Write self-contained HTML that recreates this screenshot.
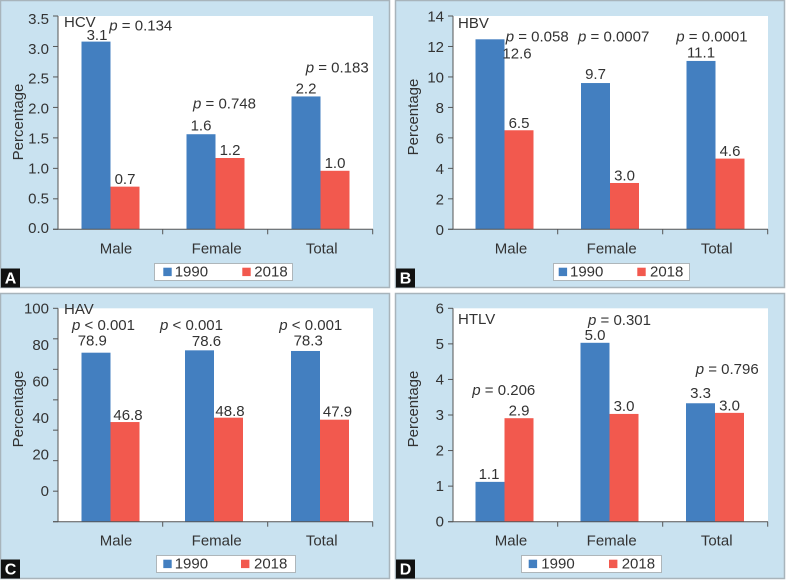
<!DOCTYPE html>
<html lang="en">
<head>
<meta charset="utf-8">
<title>Seroprevalence 1990 vs 2018</title>
<style>
html,body{margin:0;padding:0;background:#fff;width:786px;height:580px;overflow:hidden}
svg{display:block;filter:blur(0.3px)}
text{font-family:"Liberation Sans",sans-serif;font-size:15px;fill:#333}
.badge{font-weight:bold;fill:#fff;font-size:16px}
</style>
</head>
<body>
<svg id="figure" xmlns="http://www.w3.org/2000/svg" width="786" height="580" viewBox="0 0 786 580"></svg>
<script>
// ---- Data ----
const categories = ["Male", "Female", "Total"];
const seriesNames = ["1990", "2018"];

const hcvTicks = [0, 0.5, 1, 1.5, 2, 2.5, 3, 3.5];
const hcvTickLabels = ["0.0", "0.5", "1.0", "1.5", "2.0", "2.5", "3.0", "3.5"];
const hcvValues1990 = [3.08, 1.56, 2.18];
const hcvValues2018 = [0.7, 1.17, 0.96];
const hcvPrinted1990 = ["3.1", "1.6", "2.2"];
const hcvPrinted2018 = ["0.7", "1.2", "1.0"];
const hcvPValues = ["= 0.134", "= 0.748", "= 0.183"];

const hbvTicks = [0, 2, 4, 6, 8, 10, 12, 14];
const hbvTickLabels = ["0", "2", "4", "6", "8", "10", "12", "14"];
const hbvValues1990 = [12.47, 9.6, 11.05];
const hbvValues2018 = [6.5, 3.04, 4.64];
const hbvPrinted1990 = ["12.6", "9.7", "11.1"];
const hbvPrinted2018 = ["6.5", "3.0", "4.6"];
const hbvPValues = ["= 0.058", "= 0.0007", "= 0.0001"];

const havTicks = [0, 14.3, 28.6, 42.9, 57.1, 71.4, 85.7, 100];
const havTickLabelValues = [0, 20, 40, 60, 80, 100];
const havTickLabels = ["0", "20", "40", "60", "80", "100"];
const havValues1990 = [79.2, 80.3, 80];
const havValues2018 = [46.7, 48.75, 47.8];
const havPrinted1990 = ["78.9", "78.6", "78.3"];
const havPrinted2018 = ["46.8", "48.8", "47.9"];
const havPValues = ["< 0.001", "< 0.001", "< 0.001"];

const htlvTicks = [0, 1, 2, 3, 4, 5, 6];
const htlvTickLabels = ["0", "1", "2", "3", "4", "5", "6"];
const htlvValues1990 = [1.12, 5.03, 3.33];
const htlvValues2018 = [2.91, 3.03, 3.06];
const htlvPrinted1990 = ["1.1", "5.0", "3.3"];
const htlvPrinted2018 = ["2.9", "3.0", "3.0"];
const htlvPValues = ["= 0.206", "= 0.301", "= 0.796"];

// ---- Layout ----
const BLUE = "#437fc0", RED = "#f2594e", AXIS = "#555", PANEL = "#c9e2f0", EDGE = "#a8b4bb";
const PLOT_W = 315, BAR_W = 29;

const panels = [
  { key: "hcv", title: "HCV", letter: "A", px: 0, py: 0, ph: 287, ox: 58, top: 16, base: 229.3, max: 3.5,
    ticks: hcvTicks, tickLabelValues: hcvTicks, tickLabels: hcvTickLabels, labelFloor: 0.027, labelCeil: 3.46, labelDrop: 5.5,
    v1990: hcvValues1990, v2018: hcvValues2018, t1990: hcvPrinted1990, t2018: hcvPrinted2018, pv: hcvPValues,
    titleY: 27, titleX: 64, yTitleX: 23, yTitleC: 122,
    pXs: [109.3, 193, 305.7], pYs: [30.7, 108.3, 72.7],
    barNudge: [0, 0, 0],
    dx1990: [1, 0, 0], dy1990: [1.5, 3.5, 3], dx2018: [0, 0, 0], dy2018: [2.5, 3, 3],
    legend: { x: 154.5, y: 263.5, w: 138, h: 17, s1: 163.3, t1: 174.7, s2: 242.3, t2: 254.3 } },
  { key: "hbv", title: "HBV", letter: "B", px: 395, py: 0, ph: 287, ox: 453, top: 16, base: 229.3, max: 14,
    ticks: hbvTicks, tickLabelValues: hbvTicks, tickLabels: hbvTickLabels, labelDrop: 5.5,
    v1990: hbvValues1990, v2018: hbvValues2018, t1990: hbvPrinted1990, t2018: hbvPrinted2018, pv: hbvPValues,
    titleY: 28, titleX: 458, yTitleX: 418, yTitleC: 117,
    pXs: [505.7, 578, 676.3], pYs: [41.7, 41.7, 41.7],
    barNudge: [-1, -0.5, 0],
    dx1990: [27, 0, 0], dy1990: [-19, 4, 3.5], dx2018: [0, 0, 0], dy2018: [2.5, 2.5, 2.5],
    legend: { x: 553.5, y: 263.5, w: 136, h: 17, s1: 558.7, t1: 570, s2: 637.3, t2: 650 } },
  { key: "hav", title: "HAV", letter: "C", px: 0, py: 293, ph: 285, ox: 58, top: 308.3, base: 521.7, max: 100,
    ticks: havTicks, tickLabelValues: havTickLabelValues, tickLabels: havTickLabels, labelFloor: 14.4, labelDrop: 5,
    v1990: havValues1990, v2018: havValues2018, t1990: havPrinted1990, t2018: havPrinted2018, pv: havPValues,
    titleY: 314, titleX: 64, yTitleX: 23, yTitleC: 409,
    pXs: [72, 160, 279.3], pYs: [330, 330, 330],
    barNudge: [0, -1.5, -0.5],
    dx1990: [-3.7, 7, 2.7], dy1990: [7, 4.5, 5.5], dx2018: [3, 1.5, 3], dy2018: [2, 1.5, 3],
    legend: { x: 156.5, y: 555.5, w: 139, h: 17, s1: 163.3, t1: 174.7, s2: 241, t2: 254 } },
  { key: "htlv", title: "HTLV", letter: "D", px: 395, py: 293, ph: 285, ox: 453, top: 308.3, base: 521.7, max: 6,
    ticks: htlvTicks, tickLabelValues: htlvTicks, tickLabels: htlvTickLabels, labelDrop: 5,
    v1990: htlvValues1990, v2018: htlvValues2018, t1990: htlvPrinted1990, t2018: htlvPrinted2018, pv: htlvPValues,
    titleY: 324, titleX: 458, yTitleX: 418, yTitleC: 409,
    pXs: [472.3, 588, 695.7], pYs: [395, 325, 374],
    barNudge: [-1, -1, -0.5],
    dx1990: [-1, 0, 0], dy1990: [3, 3, 5.5], dx2018: [0, 0, 0], dy2018: [2.5, 3, 2.5],
    legend: { x: 521.5, y: 555.5, w: 140, h: 17, s1: 528.7, t1: 541.3, s2: 609, t2: 621.7 } }
];

// ---- Drawing ----
const svg = document.getElementById("figure");
const NS = "http://www.w3.org/2000/svg";

function make(parent, tag, props, content) {
  const node = document.createElementNS(NS, tag);
  for (const k in props) node.setAttribute(k, props[k]);
  if (content !== undefined) node.textContent = content;
  parent.appendChild(node);
  return node;
}

function yScale(p) {
  return v => p.base - (v / p.max) * (p.base - p.top);
}

// Tick labels follow their own linear axis (panel C's labels do not sit on its tick marks).
function labelScale(p) {
  const y = yScale(p);
  const floor = p.labelFloor || 0;
  const ceil = p.labelCeil || p.max;
  return v => y(floor + (v / p.max) * (ceil - floor));
}

function bandCenter(p, i) {
  return p.ox + (PLOT_W / categories.length) * (i + 0.5) + p.barNudge[i];
}

panels.forEach(p => {
  const y = yScale(p);
  const yLabel = labelScale(p);

  const g = make(svg, "g", {});
  
  

  const bg = make(g, "rect", { x: p.px + 0.5, y: p.py + 0.5, width: 389, height: p.ph, fill: PANEL, stroke: EDGE, "stroke-width": 1.5 });
  
  

  const plot = make(g, "rect", { x: p.ox, y: p.top, width: PLOT_W, height: p.base - p.top, fill: "#fff" });
  
  

  // bars and value labels
  categories.forEach((cat, i) => {
    const c = bandCenter(p, i);

    const b1 = make(g, "rect", { x: c - BAR_W, y: y(p.v1990[i]), width: BAR_W, height: p.base - y(p.v1990[i]), fill: BLUE });
    
    

    const b2 = make(g, "rect", { x: c, y: y(p.v2018[i]), width: BAR_W, height: p.base - y(p.v2018[i]), fill: RED });
    
    

    const l1 = make(g, "text", { x: c - BAR_W / 2 + p.dx1990[i], y: y(p.v1990[i]) - p.dy1990[i], "text-anchor": "middle" }, p.t1990[i]);
    
    

    const l2 = make(g, "text", { x: c + BAR_W / 2 + p.dx2018[i], y: y(p.v2018[i]) - p.dy2018[i], "text-anchor": "middle" }, p.t2018[i]);
    
    

    const pt = make(g, "text", { x: p.pXs[i], y: p.pYs[i], "xml:space": "preserve" });
    
    
    make(pt, "tspan", { "font-style": "italic" }, "p");
    make(pt, "tspan", {}, "\u00a0" + p.pv[i]);

    const cl = make(g, "text", { x: p.ox + (PLOT_W / categories.length) * (i + 0.5) + (i === 0 ? 5.5 : 1.2), y: p.base + 24, "text-anchor": "middle" }, cat);
    
    
  });

  // axes
  const yAxis = make(g, "line", { x1: p.ox, y1: p.top, x2: p.ox, y2: p.base, stroke: AXIS, "stroke-width": 1 });
  
  

  const xAxis = make(g, "line", { x1: p.ox - 5, y1: p.base, x2: p.ox + PLOT_W, y2: p.base, stroke: AXIS, "stroke-width": 1 });
  
  

  categories.forEach((cat, i) => {
    const tx = p.ox + (PLOT_W / categories.length) * (i + 1) - 0.3;
    const t = make(g, "line", { x1: tx, y1: p.base, x2: tx, y2: p.base + 5, stroke: AXIS, "stroke-width": 1 });
    
    
  });

  p.ticks.forEach(v => {
    const t = make(g, "line", { x1: p.ox - 5, y1: y(v), x2: p.ox, y2: y(v), stroke: AXIS, "stroke-width": 1 });
    
    
  });

  p.tickLabelValues.forEach((v, i) => {
    const t = make(g, "text", { x: p.ox - 9, y: yLabel(v) + p.labelDrop, "text-anchor": "end" }, p.tickLabels[i]);
    
    
  });

  const yt = make(g, "text", { x: p.yTitleX, y: p.yTitleC, "text-anchor": "middle", transform: "rotate(-90 " + p.yTitleX + " " + p.yTitleC + ")" }, "Percentage");
  
  

  const title = make(g, "text", { x: p.titleX, y: p.titleY }, p.title);
  
  

  // legend
  const L = p.legend;
  const lg = make(g, "g", {});
  
  

  const box = make(lg, "rect", { x: L.x, y: L.y, width: L.w, height: L.h, fill: "#fff", stroke: "#aeb6ba", "stroke-width": 1 });
  
  

  const s1 = make(lg, "rect", { x: L.s1, y: L.y + 4.2, width: 8.4, height: 8.4, fill: BLUE });
  
  

  const t1 = make(lg, "text", { x: L.t1, y: L.y + 13.2 }, seriesNames[0]);
  
  

  const s2 = make(lg, "rect", { x: L.s2, y: L.y + 4.2, width: 8.4, height: 8.4, fill: RED });
  
  

  const t2 = make(lg, "text", { x: L.t2, y: L.y + 13.2 }, seriesNames[1]);
  
  

  // corner badge
  const bx = p.px + 1, by = p.py + p.ph - 18.5;
  const bb = make(g, "rect", { x: bx, y: by, width: 19, height: 19, fill: "#111" });
  
  

  const bt = make(g, "text", { x: bx + 9.5, y: by + 15, "text-anchor": "middle", class: "badge" }, p.letter);
  
  
});
</script>
</body>
</html>
